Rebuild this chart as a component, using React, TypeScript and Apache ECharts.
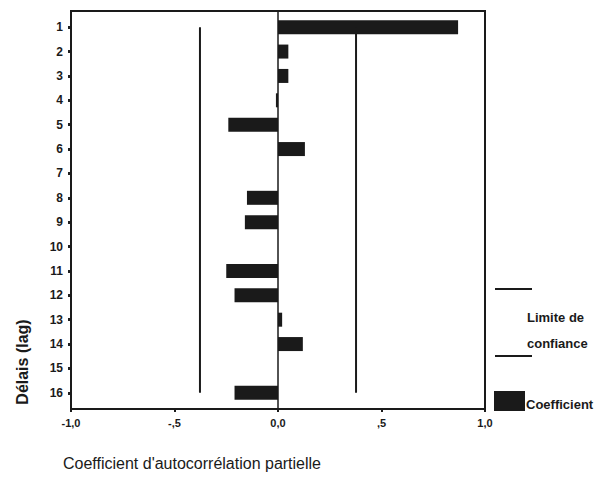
import React, { useEffect, useRef } from "react";
import * as echarts from "echarts";

const lags = ["1", "2", "3", "4", "5", "6", "7", "8", "9", "10", "11", "12", "13", "14", "15", "16"];
const coefficients = [0.87, 0.05, 0.05, -0.01, -0.24, 0.13, 0, -0.15, -0.16, 0, -0.25, -0.21, 0.02, 0.12, 0, -0.21];
const confidenceLimit = 0.377;
const xTicks = [-1, -0.5, 0, 0.5, 1];
const xTickLabels = ["-1,0", "-,5", "0,0", ",5", "1,0"];

const FONT = "'Liberation Sans', Arial, sans-serif";
const INK = "#1a1a1a";

export default function App() {
  const ref = useRef<HTMLDivElement>(null);
  useEffect(() => {
    if (!ref.current) return;
    const chart = echarts.init(ref.current, null, { renderer: "svg" });
    const first = lags[0];
    const last = lags[lags.length - 1];
    chart.setOption({
      animation: false,
      backgroundColor: "#ffffff",
      textStyle: { fontFamily: FONT },
      grid: [
        { left: 71, top: 15, width: 414, height: 390 },
        { left: 71, top: 11, width: 414, height: 398 },
      ],
      xAxis: [
        { type: "value", gridIndex: 0, min: -1, max: 1, show: false },
        {
          type: "value",
          gridIndex: 1,
          min: -1,
          max: 1,
          interval: 0.5,
          position: "bottom",
          axisLine: { show: true, onZero: false, lineStyle: { color: INK, width: 2 } },
          axisTick: { show: true, length: 3, lineStyle: { color: INK, width: 2 } },
          splitLine: { show: false },
          axisLabel: {
            margin: 8,
            fontSize: 11,
            fontWeight: "bold",
            color: INK,
            fontFamily: FONT,
            formatter: (v: number) => {
              const i = xTicks.findIndex((t) => Math.abs(t - v) < 1e-9);
              return i >= 0 ? xTickLabels[i] : "";
            },
          },
        },
      ],
      yAxis: [
        {
          type: "category",
          gridIndex: 0,
          data: lags,
          inverse: true,
          position: "left",
          axisLine: { show: true, onZero: false, lineStyle: { color: "#202020", width: 2 } },
          axisTick: { show: true, alignWithLabel: true, length: 3, lineStyle: { color: "#202020", width: 3 } },
          axisLabel: { margin: 8, fontSize: 12, fontWeight: "bold", color: INK, fontFamily: FONT },
          splitLine: { show: false },
        },
        {
          type: "value",
          gridIndex: 1,
          min: 0,
          max: 1,
          show: false,
        },
      ],
      series: [
        {
          type: "bar",
          xAxisIndex: 0,
          yAxisIndex: 0,
          data: coefficients,
          barWidth: 14,
          itemStyle: { color: INK },
        },
        {
          type: "line",
          xAxisIndex: 0,
          yAxisIndex: 0,
          data: [[-confidenceLimit, first], [-confidenceLimit, last]],
          symbol: "none",
          lineStyle: { color: INK, width: 2 },
        },
        {
          type: "line",
          xAxisIndex: 0,
          yAxisIndex: 0,
          data: [[confidenceLimit, first], [confidenceLimit, last]],
          symbol: "none",
          lineStyle: { color: INK, width: 2 },
        },
        {
          type: "line",
          xAxisIndex: 1,
          yAxisIndex: 1,
          data: [[0, 0], [0, 1]],
          symbol: "none",
          lineStyle: { color: INK, width: 1.5 },
        },
      ],
      graphic: [
        {
          type: "rect",
          shape: { x: 71, y: 11, width: 414, height: 398 },
          style: { fill: "none", stroke: INK, lineWidth: 2 },
          silent: true,
          z: 10,
        },
        {
          type: "text",
          x: 22,
          y: 362,
          rotation: Math.PI / 2,
          style: { text: "Délais (lag)", font: `bold 16px ${FONT}`, fill: INK, align: "center", verticalAlign: "middle" },
        },
        {
          type: "text",
          x: 192,
          y: 463,
          style: { text: "Coefficient d'autocorrélation partielle", font: `16px ${FONT}`, fill: INK, align: "center", verticalAlign: "middle" },
        },
        { type: "rect", shape: { x: 495, y: 288, width: 37, height: 2 }, style: { fill: INK } },
        {
          type: "text",
          x: 527,
          y: 317,
          style: { text: "Limite de", font: `bold 13px ${FONT}`, fill: INK, align: "left", verticalAlign: "middle" },
        },
        {
          type: "text",
          x: 527,
          y: 343,
          style: { text: "confiance", font: `bold 13px ${FONT}`, fill: INK, align: "left", verticalAlign: "middle" },
        },
        { type: "rect", shape: { x: 495, y: 355, width: 37, height: 2 }, style: { fill: INK } },
        { type: "rect", shape: { x: 494, y: 391, width: 31, height: 20 }, style: { fill: INK } },
        {
          type: "text",
          x: 526,
          y: 404,
          style: { text: "Coefficient", font: `bold 13px ${FONT}`, fill: INK, align: "left", verticalAlign: "middle" },
        },
      ],
    });
    return () => chart.dispose();
  }, []);
  return <div ref={ref} style={{ position: "fixed", left: 0, top: 0, width: 599, height: 478 }} />;
}
